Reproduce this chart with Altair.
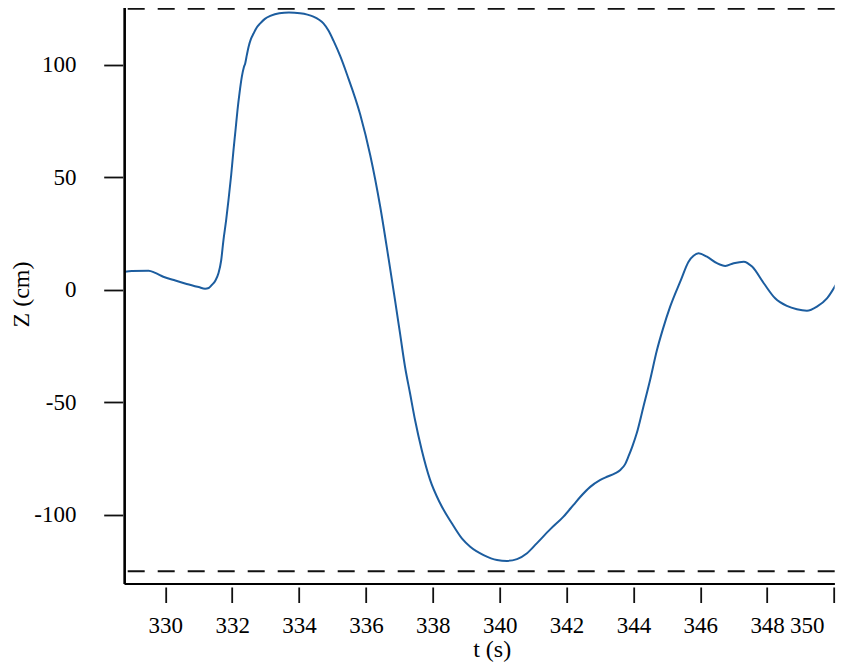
import altair as alt
import pandas as pd

# Trace values
t_values = [
    328.79, 329.0, 329.5, 329.7, 329.94, 330.3, 330.64, 331.0, 331.19, 331.3,
    331.39, 331.5, 331.59, 331.67, 331.74, 331.82, 331.89, 331.97, 332.04, 332.1,
    332.16, 332.22, 332.29, 332.35, 332.39, 332.44, 332.49, 332.56, 332.64, 332.74,
    332.84, 332.98, 333.14, 333.41, 333.7, 334.03, 334.25, 334.43, 334.6, 334.73,
    334.88, 335.03, 335.23, 335.43, 335.83, 336.13, 336.43, 336.68, 336.87, 337.02,
    337.17, 337.32, 337.47, 337.67, 337.92, 338.22, 338.57, 338.87, 339.12, 339.52,
    339.92, 340.22, 340.52, 340.82, 341.11, 341.51, 341.91, 342.21, 342.41, 342.71,
    343.0, 343.21, 343.45, 343.61, 343.75, 343.85, 343.97, 344.1, 344.3, 344.5,
    344.7, 344.88, 345.1, 345.42, 345.65, 345.8, 345.95, 346.2, 346.5, 346.75,
    347.0, 347.3, 347.55, 347.9, 348.24, 348.59, 348.89, 349.19, 349.49, 349.79,
    350.09,
]
z_values = [
    8.1, 8.4, 8.6, 7.6, 5.9, 4.2, 2.7, 1.3, 0.6, 0.9,
    2.2, 4.2, 7.4, 13.0, 22.2, 31.0, 40.0, 51.0, 62.2, 71.0,
    80.0, 87.5, 94.8, 99.0, 100.7, 104.5, 108.0, 111.5, 114.0, 116.8,
    118.5, 120.5, 121.8, 123.0, 123.3, 123.0, 122.4, 121.5, 120.1, 118.5,
    115.3, 110.8, 104.0, 96.0, 78.0, 59.9, 36.9, 13.8, -4.4, -19.2,
    -34.1, -45.9, -57.8, -71.1, -84.4, -94.8, -103.7, -110.4, -114.1, -117.8,
    -120.0, -120.4, -119.6, -117.0, -112.6, -106.4, -100.7, -95.5, -92.0, -87.5,
    -84.5, -83.0, -81.5, -80.0, -77.5, -74.1, -69.5, -63.7, -51.9, -40.0,
    -27.0, -17.5, -7.4, 4.4, 12.6, 15.2, 16.3, 14.8, 11.9, 10.7,
    11.9, 12.6, 10.4, 3.0, -3.7, -7.1, -8.6, -9.2, -7.4, -3.7,
    3.2,
]
limit_values = [125, -125]
x_ticks = [330, 332, 334, 336, 338, 340, 342, 344, 346, 348, 350]
y_ticks = [-100, -50, 0, 50, 100]

x_domain = [328.786, 350.021]
y_domain = [-130.67, 125.33]

W, H = 710, 576
FONT = "Liberation Serif"

trace = pd.DataFrame({"t": t_values, "z": z_values})
limits = pd.DataFrame({"z": limit_values})

x_scale = alt.Scale(domain=x_domain, nice=False, zero=False)
y_scale = alt.Scale(domain=y_domain, nice=False, zero=False)

x_axis = alt.Axis(
    values=x_ticks, title="t (s)", domain=False, grid=False,
    offset=3, tickSize=15.5, tickWidth=1.8, tickColor="#111111",
    labelPadding=12, labelFont=FONT, labelFontSize=23, labelColor="black",
    labelExpr="'' + datum.value",
    labelOffset={"condition": {"test": "datum.value == 350", "value": -10}, "value": 0},
    titleFont=FONT, titleFontSize=24, titleFontWeight="normal", titleColor="black",
    titleX=367, titleY=70, titleBaseline="alphabetic", titleAlign="center",
)
y_axis = alt.Axis(
    values=y_ticks, title="Z (cm)", domain=False, grid=False,
    offset=2, tickSize=19, tickWidth=1.8, tickColor="#111111",
    labelPadding=27.7, labelFont=FONT, labelFontSize=23, labelColor="black",
    labelBaseline="middle", labelExpr="'' + datum.value",
    titleFont=FONT, titleFontSize=24, titleFontWeight="normal", titleColor="black",
    titleX=-93.7, titleY=286, titleAngle=-90, titleBaseline="alphabetic", titleAlign="center",
)

line = alt.Chart(trace).mark_line(
    color="#1c5d9f", strokeWidth=2, interpolate="monotone", clip=True
).encode(
    x=alt.X("t:Q", scale=x_scale, axis=x_axis),
    y=alt.Y("z:Q", scale=y_scale, axis=y_axis),
)

dashed = alt.Chart(limits).mark_rule(
    color="#111111", strokeWidth=2, strokeDash=[17, 13]
).encode(
    y=alt.Y("z:Q", scale=y_scale),
)

x_domain_line = alt.Chart(limits).mark_rule(color="black", strokeWidth=2.2).encode(
    x=alt.value(0), x2=alt.value(W), y=alt.value(H)
)
y_domain_line = alt.Chart(limits).mark_rule(color="black", strokeWidth=2.2).encode(
    x=alt.value(0), y=alt.value(0), y2=alt.value(H)
)

chart = alt.layer(dashed, line, x_domain_line, y_domain_line).properties(
    width=W, height=H,
    autosize=alt.AutoSizeParams(type="none"),
    padding={"left": 116.7, "top": 0, "right": 7, "bottom": 78},
    background="white",
).configure_view(stroke=None)

chart.save("out.html", embed_options={"renderer": "svg", "actions": False})
